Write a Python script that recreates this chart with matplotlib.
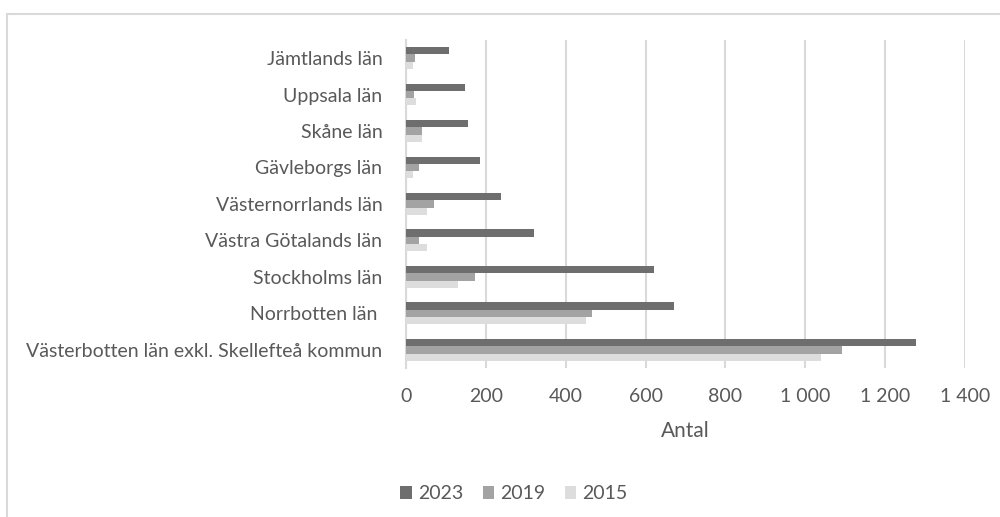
import matplotlib
matplotlib.use("Agg")
import matplotlib.pyplot as plt
import numpy as np
from matplotlib.patches import Rectangle

categories = ["Västerbotten län exkl. Skellefteå kommun", "Norrbotten län ", "Stockholms län",
              "Västra Götalands län", "Västernorrlands län", "Gävleborgs län",
              "Skåne län", "Uppsala län", "Jämtlands län"]
series_names = ["2023", "2019", "2015"]
v2023 = [1278, 671, 620, 321, 238, 186, 155, 149, 107]
v2019 = [1093, 466, 173, 33, 71, 33, 41, 21, 22]
v2015 = [1039, 451, 129, 53, 53, 17, 41, 24, 17]
xticks = [0, 200, 400, 600, 800, 1000, 1200, 1400]
xtick_labels = ["0", "200", "400", "600", "800", "1 000", "1 200", "1 400"]
colors = ["#6e6e6e", "#a3a3a3", "#dddddd"]

plt.rcParams['font.family'] = ['Lato', 'DejaVu Sans']
fig = plt.figure(figsize=(10, 5.17), dpi=100)
ax = fig.add_axes([0.406, 0.288, 0.559, 0.635])

# outer frame (partially cropped)
fig.patches.append(Rectangle((0.0065, -0.1), 1.2, 0.1 + (1 - 14/517), transform=fig.transFigure,
                             fill=False, edgecolor="#d9d9d9", linewidth=1.5))

y = np.arange(len(categories))
h = 0.2
for i, (vals, name) in enumerate(zip([v2023, v2019, v2015], series_names)):
    ax.barh(y + (1 - i) * h, vals, height=h, color=colors[i], label=name, zorder=3)

ax.set_xlim(0, 1400)
ax.set_ylim(-0.5, len(categories) - 0.5)
ax.set_xticks(xticks)
ax.set_xticklabels(xtick_labels)
ax.set_yticks(y)
ax.set_yticklabels(categories)
ax.tick_params(axis="both", length=0, labelsize=14, colors="#595959")
ax.tick_params(axis="y", pad=17)
ax.tick_params(axis="x", pad=14)
ax.grid(axis="x", color="#d9d9d9", linewidth=1.5, zorder=0)
for s in ["top", "right", "bottom"]:
    ax.spines[s].set_visible(False)
ax.spines["left"].set_color("#d9d9d9")
ax.spines["left"].set_linewidth(1.5)
ax.set_xlabel("Antal", fontsize=15, color="#595959", labelpad=12)

leg = fig.legend(loc="center", bbox_to_anchor=(0.514, 0.045), ncol=3, frameon=False,
                 fontsize=14, handlelength=0.6, handleheight=0.6, handletextpad=0.3,
                 columnspacing=1.0, labelcolor="#595959")

fig.savefig("out.png", dpi=100)
